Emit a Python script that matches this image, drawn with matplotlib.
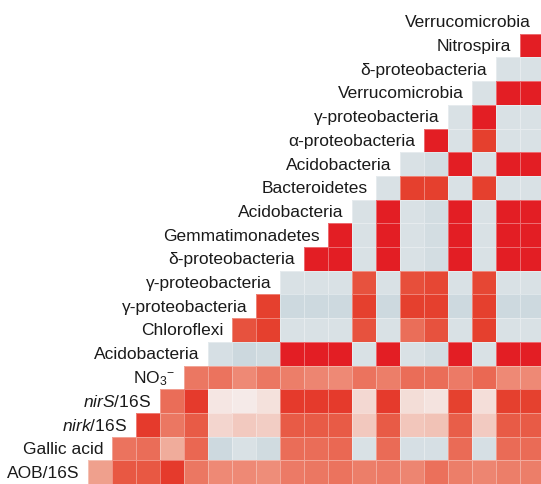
import numpy as np
import matplotlib
matplotlib.use('Agg')
import matplotlib.pyplot as plt
from matplotlib.colors import LinearSegmentedColormap

plt.rcParams['font.family'] = ['Liberation Sans', 'DejaVu Sans']
plt.rcParams['mathtext.fontset'] = 'custom'
plt.rcParams['mathtext.rm'] = 'Liberation Sans'
plt.rcParams['mathtext.it'] = 'Liberation Sans:italic'

# row labels, top to bottom
labels = ['Verrucomicrobia', 'Nitrospira', 'δ-proteobacteria', 'Verrucomicrobia',
          'γ-proteobacteria', 'α-proteobacteria', 'Acidobacteria', 'Bacteroidetes',
          'Acidobacteria', 'Gemmatimonadetes', 'δ-proteobacteria', 'γ-proteobacteria',
          'γ-proteobacteria', 'Chloroflexi', 'Acidobacteria', r'NO$_3$$^{-}$',
          r'$\mathit{nirS}$/16S', r'$\mathit{nirk}$/16S', 'Gallic acid', 'AOB/16S']

# values of each row, first cell of row r sits in column 19 - r
R, r, o, s, g, b = 0.95, 0.85, 0.76, 0.62, -0.3, -0.5
row_values = [
    [],
    [R],
    [g, g],
    [g, R, R],
    [g, R, g, g],
    [R, g, r, g, g],
    [g, -0.4, R, g, R, R],
    [g, r, r, g, r, g, g],
    [g, R, g, -0.4, R, g, R, R],
    [R, g, R, g, -0.4, R, g, R, R],
    [R, R, g, R, g, -0.4, R, g, R, R],
    [g, g, g, o, g, 0.78, 0.82, g, 0.82, g, g],
    [r, b, b, b, r, b, r, r, b, r, b, b],
    [o, r, g, g, g, o, g, s, o, g, r, g, g],
    [-0.35, -0.55, -0.45, R, R, R, g, R, g, -0.4, R, g, R, R],
    [0.58, 0.6, 0.5, 0.58, 0.55, 0.52, 0.5, 0.6, 0.55, 0.63, 0.63, 0.57, 0.65, 0.5, 0.5],
    [0.63, 0.86, 0.06, 0.03, 0.1, 0.86, 0.86, 0.86, 0.16, 0.86, 0.13, 0.08, 0.84, 0.12,
     0.85, 0.84],
    [0.86, 0.58, 0.72, 0.18, 0.26, 0.24, 0.72, 0.72, 0.72, 0.27, 0.72, 0.28, 0.29, 0.71,
     0.25, 0.72, 0.72],
    [0.6, 0.63, 0.37, 0.66, -0.5, -0.3, -0.45, 0.63, 0.63, 0.65, -0.3, 0.64, -0.35, -0.35,
     0.64, -0.35, 0.64, 0.64],
    [0.42, 0.74, 0.74, 0.86, 0.58, 0.5, 0.5, 0.49, 0.57, 0.58, 0.6, 0.55, 0.57, 0.52,
     0.61, 0.55, 0.52, 0.55, 0.55],
]

n = len(labels)
M = np.full((n, n), np.nan)
for i, vals in enumerate(row_values):
    start = n - 1 - i
    M[i, start:start + len(vals)] = vals

stops = [(-1, '#C4D3DA'), (-0.5, '#CDD9DF'), (-0.3, '#D9E1E5'), (-0.1, '#E3E7E9'),
         (0, '#F6EEEC'), (0.15, '#F3DAD4'), (0.27, '#F2C8BE'), (0.4, '#EFA592'),
         (0.5, '#EE8A76'), (0.6, '#EB735E'), (0.73, '#E85A45'), (0.85, '#E5402E'),
         (0.95, '#E31E24'), (1, '#E11B22')]
cmap = LinearSegmentedColormap.from_list('cor', [((v + 1) / 2, c) for v, c in stops])

fig = plt.figure(figsize=(5.41, 4.85), dpi=100)
ax = fig.add_axes([88 / 541, 0, 480 / 541, 474 / 485])
ax.pcolormesh(np.ma.masked_invalid(M), cmap=cmap, vmin=-1, vmax=1,
              edgecolors=(1, 1, 1, 0.35), linewidth=0.5)
ax.set_xlim(0, n)
ax.set_ylim(n, 0)
ax.axis('off')

for i, lab in enumerate(labels):
    gap = 0.54 if i == 0 else 0.36
    ax.text(n - 1 - i - gap, i + 0.5, lab, ha='right', va='center',
            fontsize=12.5, color='#1a1a1a', clip_on=False)

fig.savefig('out.png', dpi=100)
